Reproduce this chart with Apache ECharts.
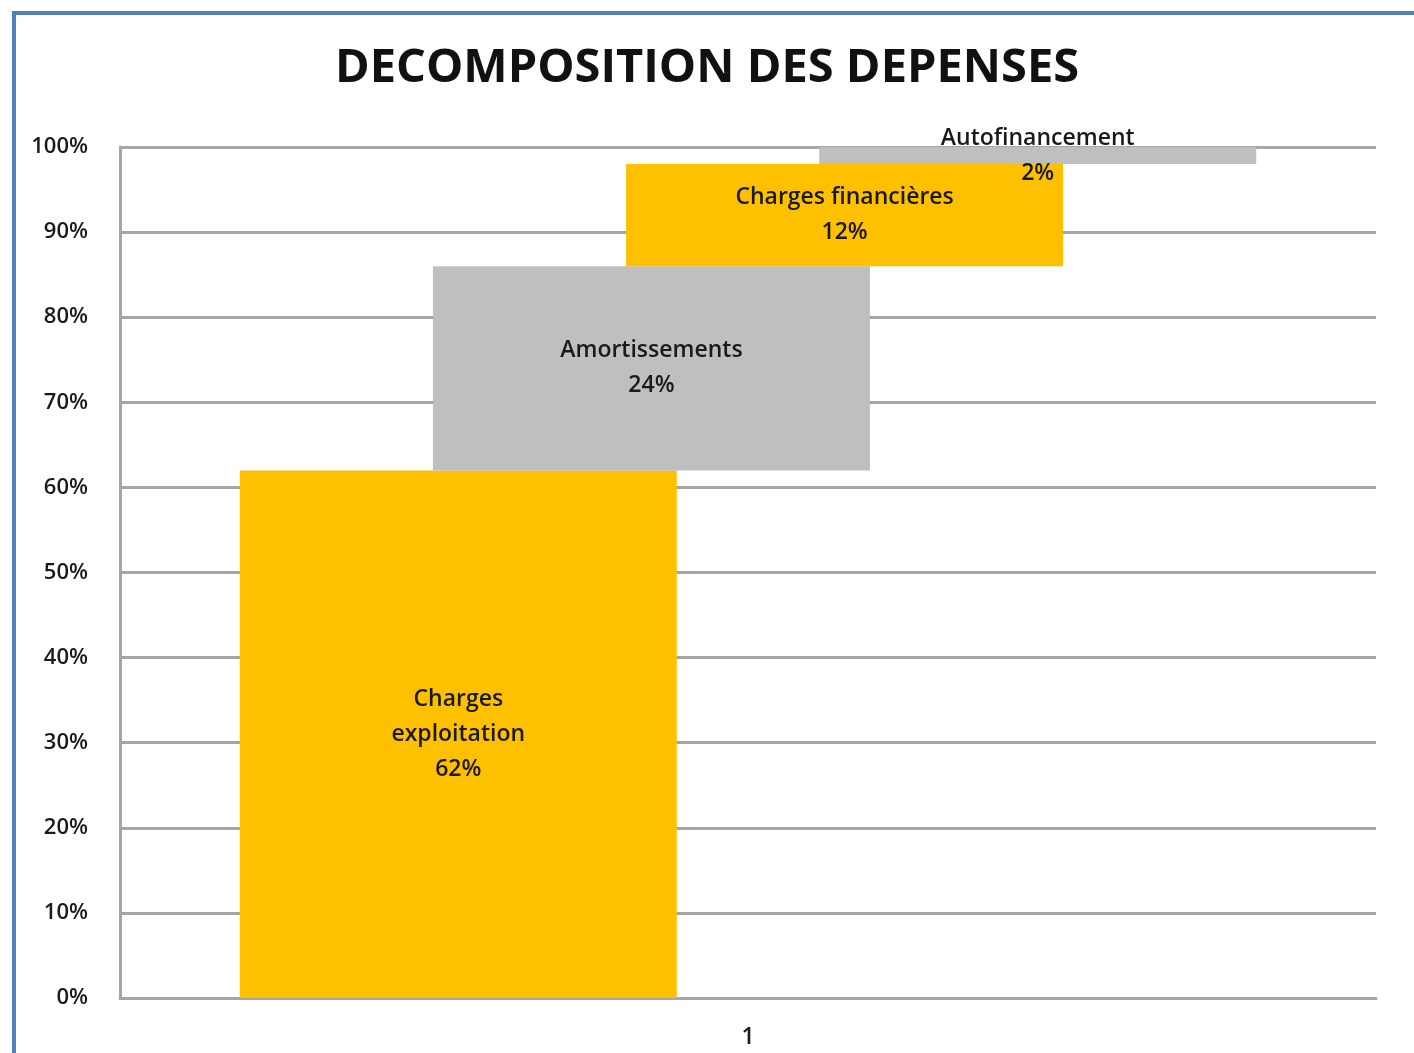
<!DOCTYPE html>
<html>
<head>
<meta charset="utf-8">
<script src="https://cdn.jsdelivr.net/npm/echarts@6/dist/echarts.min.js"></script>
<style>
  html, body { margin: 0; padding: 0; background: #fff; }
  #frame { position: absolute; left: 12px; top: 11px; width: 1420px; height: 1060px; border-top: 4px solid #4f81bd; border-left: 4px solid #4f81bd; box-sizing: border-box; }
  #chart { position: absolute; left: 0; top: 0; width: 1414px; height: 1053px; }
</style>
</head>
<body>
<div id="frame"></div>
<div id="chart"></div>
<script>
const title = 'DECOMPOSITION DES DEPENSES';
const categories = ['1'];
const seriesNames = ['Charges exploitation', 'Amortissements', 'Charges financières', 'Autofinancement'];
const seriesLabels = ['Charges\nexploitation', 'Amortissements', 'Charges financières', 'Autofinancement'];
const seriesValues = [62, 24, 12, 2];
const seriesColors = ['#FFC000', '#BFBFBF', '#FFC000', '#BFBFBF'];
const yTicks = [0, 10, 20, 30, 40, 50, 60, 70, 80, 90, 100];

const chart = echarts.init(document.getElementById('chart'), null, { renderer: 'canvas' });
const series = [];
let cum = 0;
seriesValues.forEach((v, i) => {
  const stack = 's' + i;
  series.push({
    type: 'bar', name: 'base' + i, stack: stack, data: [cum],
    itemStyle: { color: 'transparent' }, barWidth: 437, barGap: '-55.8%',
    silent: true, label: { show: false }
  });
  series.push({
    type: 'bar', name: seriesNames[i], stack: stack, data: [v],
    itemStyle: { color: seriesColors[i] }, barWidth: 437, barGap: '-55.8%',
    label: {
      show: true, position: 'inside',
      formatter: () => seriesLabels[i] + '\n' + v + '%',
      fontFamily: 'Open Sans', fontSize: 23, fontWeight: 600, color: '#1a1a1a', lineHeight: 35
    }
  });
  cum += v;
});

chart.setOption({
  animation: false,
  title: {
    text: title, left: 'center', top: 40,
    textStyle: { fontFamily: 'Open Sans', fontWeight: 'bold', fontSize: 47, color: '#111' }
  },
  grid: { left: 120, right: 38, top: 147, bottom: 55, containLabel: false },
  xAxis: {
    type: 'category', data: categories,
    axisLine: { lineStyle: { color: '#a6a6a6', width: 3 } },
    axisTick: { show: false },
    axisLabel: { fontFamily: 'Open Sans', fontSize: 23, fontWeight: 600, color: '#1a1a1a', margin: 28 }
  },
  yAxis: {
    type: 'value', min: yTicks[0], max: yTicks[yTicks.length - 1], interval: 10,
    axisLine: { show: true, lineStyle: { color: '#a6a6a6', width: 3 } },
    axisTick: { show: false },
    axisLabel: { fontFamily: 'Open Sans', fontSize: 22, fontWeight: 600, color: '#1a1a1a', margin: 32, formatter: '{value}%' },
    splitLine: { lineStyle: { color: '#a6a6a6', width: 3 } }
  },
  series: series
});
</script>
</body>
</html>
